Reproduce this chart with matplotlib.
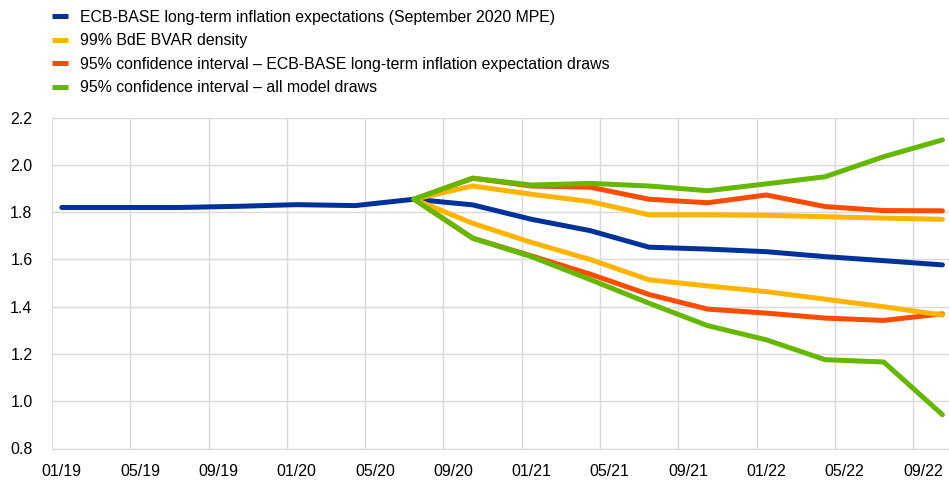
import matplotlib
matplotlib.use('Agg')
import matplotlib.pyplot as plt
from matplotlib.lines import Line2D
from matplotlib.ticker import FixedLocator

plt.rcParams['font.family'] = ['Liberation Sans', 'DejaVu Sans']

# observed expectations (Jan 2019 - Jul 2020)
hist_dates = ['2019-01', '2019-04', '2019-07', '2019-10', '2020-01', '2020-04', '2020-07']
hist_vals = [1.82, 1.82, 1.82, 1.825, 1.832, 1.828, 1.855]

# projection horizon, quarterly
proj_dates = ['2020-07', '2020-10', '2021-01', '2021-04', '2021-07',
              '2021-10', '2022-01', '2022-04', '2022-07', '2022-10']
base_proj = [1.855, 1.831, 1.770, 1.722, 1.652, 1.644, 1.633, 1.612, 1.595, 1.577]
bvar_hi = [1.855, 1.911, 1.876, 1.845, 1.789, 1.789, 1.787, 1.781, 1.775, 1.770]
bvar_lo = [1.855, 1.753, 1.672, 1.600, 1.514, 1.488, 1.464, 1.432, 1.400, 1.365]
ecb_hi = [1.855, 1.944, 1.911, 1.906, 1.855, 1.840, 1.873, 1.824, 1.807, 1.806]
ecb_lo = [1.855, 1.690, 1.615, 1.538, 1.452, 1.390, 1.373, 1.352, 1.342, 1.370]
all_hi = [1.855, 1.944, 1.915, 1.922, 1.911, 1.891, 1.920, 1.950, 2.035, 2.106]
all_lo = [1.855, 1.690, 1.612, 1.515, 1.415, 1.320, 1.260, 1.176, 1.166, 0.943]

tick_labels = ['01/19', '05/19', '09/19', '01/20', '05/20', '09/20',
               '01/21', '05/21', '09/21', '01/22', '05/22', '09/22']

labels = ['ECB-BASE long-term inflation expectations (September 2020 MPE)',
          '99% BdE BVAR density',
          '95% confidence interval \u2013 ECB-BASE long-term inflation expectation draws',
          '95% confidence interval \u2013 all model draws']
c_blue, c_yellow, c_red, c_green = '#003299', '#FFB400', '#FF4B00', '#65B800'


def month_pos(d):
    # months since Jan 2019, centred in the month slot
    y, m = d.split('-')
    return (int(y) - 2019) * 12 + int(m) - 1 + 0.5


xh = [month_pos(d) for d in hist_dates]
xp = [month_pos(d) for d in proj_dates]

fig = plt.figure(figsize=(9.49, 4.80), dpi=100)
ax = fig.add_axes([52 / 949, 31.5 / 480, 897 / 949, 330.8 / 480])

lw = 3.6
kw = dict(lw=lw, solid_capstyle='round', solid_joinstyle='round')
ax.plot(xh, hist_vals, color=c_blue, zorder=3, **kw)
ax.plot(xp, base_proj, color=c_blue, zorder=3, **kw)
ax.plot(xp, ecb_hi, color=c_red, zorder=4, **kw)
ax.plot(xp, ecb_lo, color=c_red, zorder=4, **kw)
ax.plot(xp, bvar_hi, color=c_yellow, zorder=5, **kw)
ax.plot(xp, bvar_lo, color=c_yellow, zorder=5, **kw)
ax.plot(xp, all_hi, color=c_green, zorder=6, **kw)
ax.plot(xp, all_lo, color=c_green, zorder=6, **kw)

ax.set_xlim(0, 897 / 19.57)
ax.set_ylim(0.8, 2.2)
ax.set_yticks([0.8, 1.0, 1.2, 1.4, 1.6, 1.8, 2.0, 2.2])
ax.set_yticklabels(['%.1f' % v for v in ax.get_yticks()])

ax.set_xticks([i * 4 + 0.5 for i in range(len(tick_labels))])
ax.set_xticklabels(tick_labels)
ax.xaxis.set_minor_locator(FixedLocator([i * 4 for i in range(1, 12)]))
ax.grid(False)
ax.grid(True, which='minor', axis='x', color='#d9d9d9', lw=1)
ax.grid(True, which='major', axis='y', color='#d9d9d9', lw=1)
ax.set_axisbelow(True)

ax.tick_params(axis='both', which='both', length=0, labelsize=11.5, colors='#000000')
ax.tick_params(axis='y', pad=14)
ax.tick_params(axis='x', pad=11)
for s in ['top', 'right']:
    ax.spines[s].set_visible(False)
ax.spines['left'].set_color('#d9d9d9')
ax.spines['bottom'].set_color('#d9d9d9')

handles = [Line2D([], [], color=c, lw=3.6, solid_capstyle='butt')
           for c in [c_blue, c_yellow, c_red, c_green]]
fig.legend(handles, labels, loc='upper left', bbox_to_anchor=(52 / 949, 1 - 10 / 480),
           frameon=False, fontsize=11.4, handlelength=1.0, handletextpad=0.75,
           labelspacing=0.53, borderpad=0, borderaxespad=0)

fig.savefig('out.png', dpi=100)
